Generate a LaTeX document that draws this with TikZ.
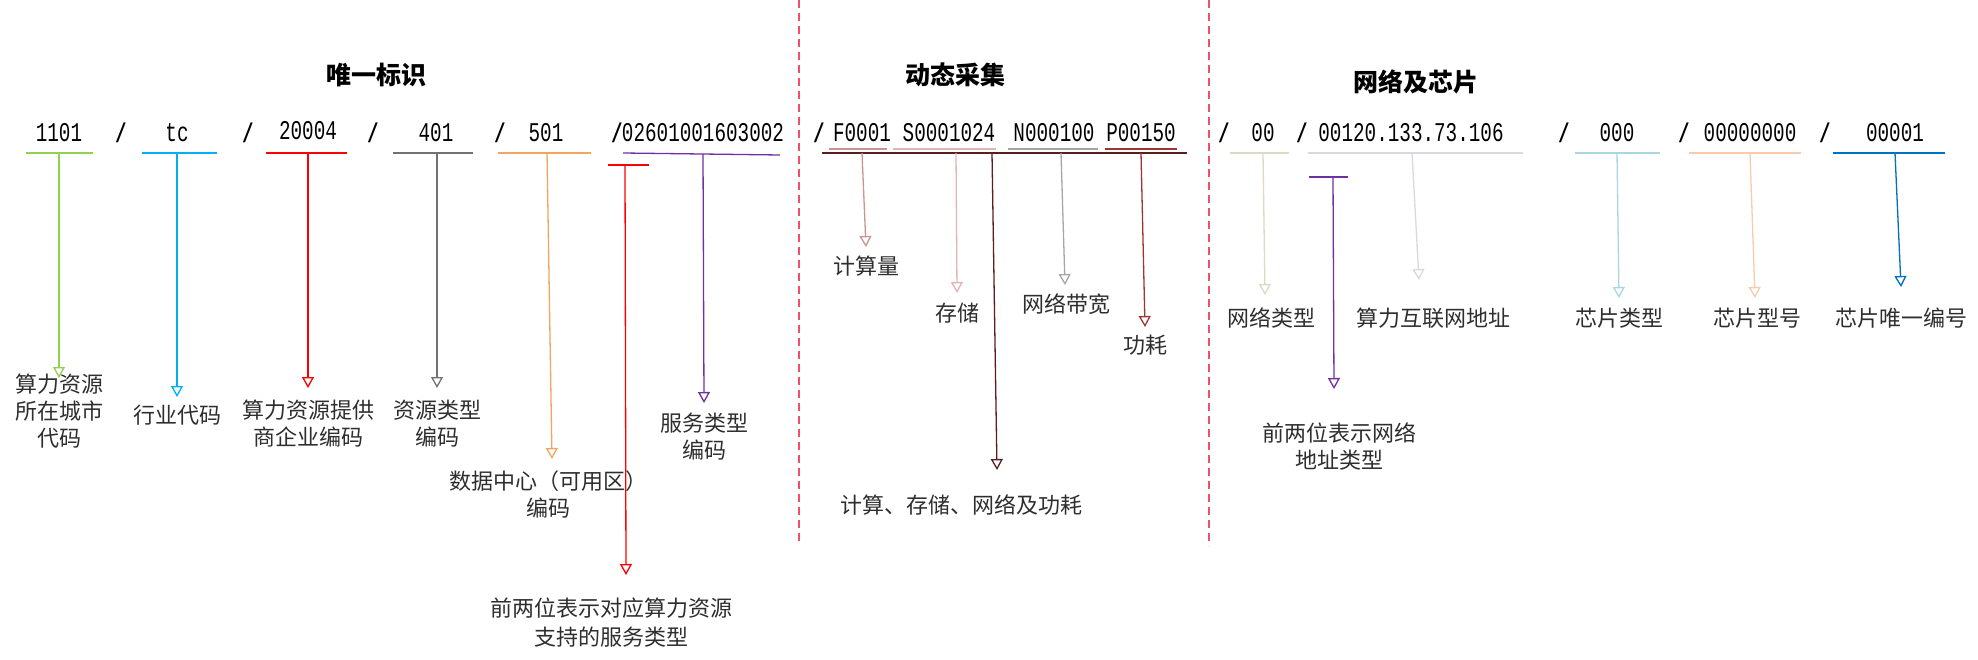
\documentclass[tikz,border=0pt]{standalone}
\usepackage{fontspec}
\usepackage{graphicx}
\setmainfont{Noto Sans CJK SC}
\newfontfamily\codefont{Liberation Mono}
\usetikzlibrary{arrows.meta}
\definecolor{cgreen}{HTML}{92D050}
\definecolor{cblue}{HTML}{00B0F0}
\definecolor{cred}{HTML}{FF0000}
\definecolor{cgray}{HTML}{767171}
\definecolor{corange}{HTML}{F4A460}
\definecolor{cpurple}{HTML}{7030A0}
\definecolor{cF}{HTML}{C99591}
\definecolor{cS}{HTML}{E2B4B4}
\definecolor{cN}{HTML}{A6A6A6}
\definecolor{cP}{HTML}{9E3535}
\definecolor{cmain}{HTML}{5B1E1E}
\definecolor{cbeige}{HTML}{DDD9C3}
\definecolor{cip}{HTML}{D8D8E0}
\definecolor{clblue}{HTML}{A9D6E5}
\definecolor{cpeach}{HTML}{F8CBAD}
\definecolor{cdblue}{HTML}{0070C0}
\definecolor{csep}{HTML}{F0506A}
\definecolor{ctext}{HTML}{2E2E2E}
\newcommand{\cd}[1]{\scalebox{1}[1.4]{#1}}
\tikzset{
  code/.style={inner sep=0pt, font=\codefont\fontsize{19.3}{20}\selectfont, text=black},
  lbl/.style={inner sep=0pt, align=center, font=\fontsize{22}{27}\selectfont, text=ctext},
  lbltwo/.style={lbl, font=\fontsize{22}{29}\selectfont},
  ttl/.style={inner sep=0pt, font=\bfseries\fontsize{25}{30}\selectfont, text=black},
  uline/.style={line width=1.3pt},
  arr/.style={line width=1.3pt, -{Triangle[open, length=11pt, width=12pt, line width=1.3pt]}},
  sep/.style={line width=1.5pt, csep, dash pattern=on 8pt off 5pt}
}
\begin{document}
\begin{tikzpicture}[x=1pt, y=-1pt]
\useasboundingbox (0,0) rectangle (1978,660);

% separators
\coordinate (s1t) at (799,0); \coordinate (s1b) at (799,542);
\coordinate (s2t) at (1209,0); \coordinate (s2b) at (1209,546);
\draw[sep] (s1t) -- (s1b);
\draw[sep] (s2t) -- (s2b);

% titles
\node[ttl] (t1) at (376,75) {唯一标识};
\node[ttl] (t2) at (955,75) {动态采集};
\node[ttl] (t3) at (1416,82) {网络及芯片};

% slashes
\foreach \n/\x in {a/121, b/248, c/373, d/500, e/617, f/819, g/1224, h/1302, i/1564, j/1684, k/1825}
  \node[code] (sl\n) at (\x,133) {\cd{\textbf{/}}};

% ===== unique id =====
\node[code] (c1) at (59,133) {\cd{1101}};
\coordinate (u1l) at (26,153); \coordinate (u1r) at (93,153); \coordinate (u1) at (59,153);
\draw[uline, cgreen] (u1l) -- (u1r);
\node[lbl] (l1) at (60,411) {算力资源\\所在城市\\代码};
\coordinate (a1) at (59,378);
\draw[arr, cgreen] (u1) -- (a1);

\node[code] (c2) at (177,133) {\cd{tc}};
\coordinate (u2l) at (142,153); \coordinate (u2r) at (217,153); \coordinate (u2) at (177,153);
\draw[uline, cblue] (u2l) -- (u2r);
\node[lbl] (l2) at (177,415) {行业代码};
\coordinate (a2) at (177,397);
\draw[arr, cblue] (u2) -- (a2);

\node[code] (c3) at (308,131) {\cd{20004}};
\coordinate (u3l) at (266,153); \coordinate (u3r) at (347,153); \coordinate (u3) at (308,153);
\draw[uline, cred] (u3l) -- (u3r);
\node[lbl] (l3) at (308,424) {算力资源提供\\商企业编码};
\coordinate (a3) at (308,388);
\draw[arr, cred] (u3) -- (a3);

\node[code] (c4) at (436,133) {\cd{401}};
\coordinate (u4l) at (393,153); \coordinate (u4r) at (473,153); \coordinate (u4) at (437,153);
\draw[uline, cgray] (u4l) -- (u4r);
\node[lbl] (l4) at (437,424) {资源类型\\编码};
\coordinate (a4) at (437,388);
\draw[arr, cgray] (u4) -- (a4);

\node[code] (c5) at (546,133) {\cd{501}};
\coordinate (u5l) at (498,153); \coordinate (u5r) at (591,153); \coordinate (u5) at (547,153);
\draw[uline, corange] (u5l) -- (u5r);
\node[lbl] (l5) at (548,494) {数据中心（可用区）\\编码};
\coordinate (a5) at (552,459);
\draw[arr, corange] (u5) -- (a5);

\node[code] (c6) at (703,133) {\cd{02601001603002}};
\coordinate (u6l) at (623,153); \coordinate (u6r) at (780,155); \coordinate (u6) at (703,154);
\draw[uline, cpurple] (u6l) -- (u6r);
\node[lbl] (l6) at (704,437) {服务类型\\编码};
\coordinate (a6) at (704,403);
\draw[arr, cpurple] (u6) -- (a6);

\coordinate (u7l) at (608,165); \coordinate (u7r) at (649,165); \coordinate (u7) at (625,165);
\draw[uline, cred] (u7l) -- (u7r);
\node[lbltwo] (l7) at (611,623) {前两位表示对应算力资源\\支持的服务类型};
\coordinate (a7) at (626,575);
\draw[arr, cred] (u7) -- (a7);

% ===== dynamic =====
\node[code] (dF) at (862,133) {\cd{F0001}};
\node[code] (dS) at (949,133) {\cd{S0001024}};
\node[code] (dN) at (1054,133) {\cd{N000100}};
\node[code] (dP) at (1141,133) {\cd{P00150}};
\coordinate (dFl) at (829,149); \coordinate (dFr) at (887,149);
\coordinate (dSl) at (893,149); \coordinate (dSr) at (996,149);
\coordinate (dNl) at (1008,149); \coordinate (dNr) at (1098,149);
\coordinate (dPl) at (1105,149); \coordinate (dPr) at (1177,149);
\draw[uline, cF] (dFl) -- (dFr);
\draw[uline, cS] (dSl) -- (dSr);
\draw[uline, cN] (dNl) -- (dNr);
\draw[uline, cP] (dPl) -- (dPr);
\coordinate (dml) at (822,153); \coordinate (dmr) at (1187,153);
\draw[uline, cmain] (dml) -- (dmr);

\coordinate (vF) at (862,153); \coordinate (aF) at (866,247);
\node[lbl] (lF) at (866,266) {计算量};
\draw[arr, cF] (vF) -- (aF);
\coordinate (vS) at (956,153); \coordinate (aS) at (957,293);
\node[lbl] (lS) at (957,313) {存储};
\draw[arr, cS] (vS) -- (aS);
\coordinate (vM) at (992,153); \coordinate (aM) at (997,470);
\node[lbl] (lM) at (961,505) {计算、存储、网络及功耗};
\draw[arr, cmain] (vM) -- (aM);
\coordinate (vN) at (1061,153); \coordinate (aN) at (1065,285);
\node[lbl] (lN) at (1066,304) {网络带宽};
\draw[arr, cN] (vN) -- (aN);
\coordinate (vP) at (1141,153); \coordinate (aP) at (1145,327);
\node[lbl] (lP) at (1145,345) {功耗};
\draw[arr, cP] (vP) -- (aP);

% ===== network & chips =====
\node[code] (n1) at (1263,133) {\cd{00}};
\coordinate (n1l) at (1230,153); \coordinate (n1r) at (1289,153); \coordinate (n1u) at (1263,153);
\draw[uline, cbeige] (n1l) -- (n1r);
\node[lbl] (ln1) at (1271,318) {网络类型};
\coordinate (an1) at (1265,295);
\draw[arr, cbeige] (n1u) -- (an1);

\node[code] (n2) at (1411,133) {\cd{00120.133.73.106}};
\coordinate (n2l) at (1308,153); \coordinate (n2r) at (1523,153); \coordinate (n2u) at (1412,153);
\draw[uline, cip] (n2l) -- (n2r);
\node[lbl] (ln2) at (1433,318) {算力互联网地址};
\coordinate (an2) at (1419,280);
\draw[arr, cip] (n2u) -- (an2);

\coordinate (n3l) at (1309,177); \coordinate (n3r) at (1348,177); \coordinate (n3u) at (1333,177);
\draw[uline, cpurple] (n3l) -- (n3r);
\node[lbl] (ln3) at (1339,446) {前两位表示网络\\地址类型};
\coordinate (an3) at (1334,389);
\draw[arr, cpurple] (n3u) -- (an3);

\node[code] (n4) at (1617,133) {\cd{000}};
\coordinate (n4l) at (1575,153); \coordinate (n4r) at (1660,153); \coordinate (n4u) at (1617,153);
\draw[uline, clblue] (n4l) -- (n4r);
\node[lbl] (ln4) at (1619,318) {芯片类型};
\coordinate (an4) at (1619,298);
\draw[arr, clblue] (n4u) -- (an4);

\node[code] (n5) at (1750,133) {\cd{00000000}};
\coordinate (n5l) at (1689,153); \coordinate (n5r) at (1801,153); \coordinate (n5u) at (1750,153);
\draw[uline, cpeach] (n5l) -- (n5r);
\node[lbl] (ln5) at (1757,318) {芯片型号};
\coordinate (an5) at (1755,298);
\draw[arr, cpeach] (n5u) -- (an5);

\node[code] (n6) at (1895,133) {\cd{00001}};
\coordinate (n6l) at (1833,153); \coordinate (n6r) at (1945,153); \coordinate (n6u) at (1895,153);
\draw[uline, cdblue] (n6l) -- (n6r);
\node[lbl] (ln6) at (1901,318) {芯片唯一编号};
\coordinate (an6) at (1901,287);
\draw[arr, cdblue] (n6u) -- (an6);
\end{tikzpicture}
\end{document}
